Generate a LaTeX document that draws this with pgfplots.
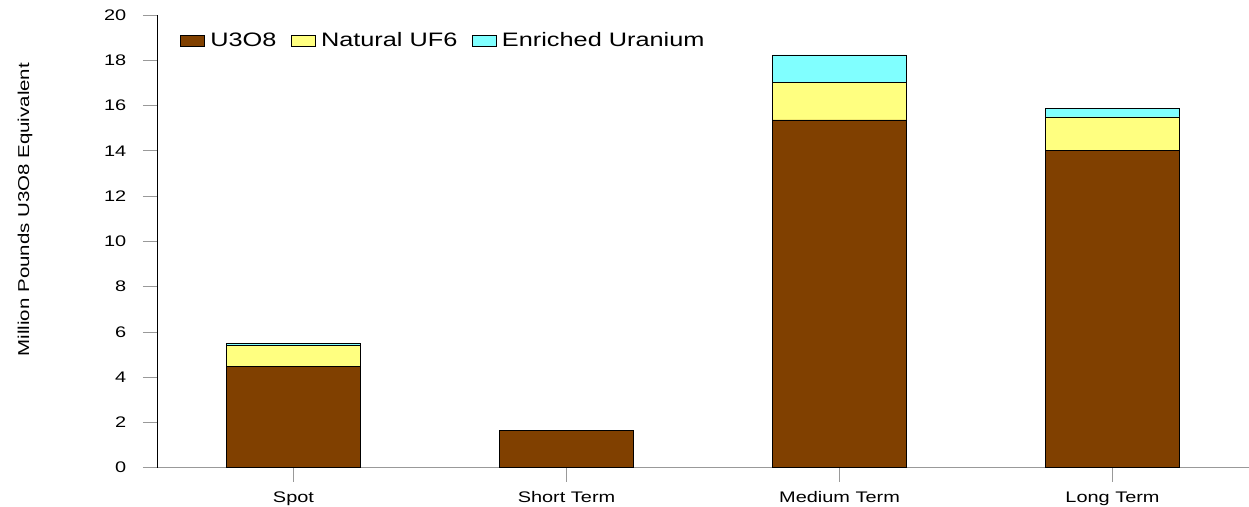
\documentclass[border=0pt]{standalone}
\usepackage{pgfplots}
\pgfplotsset{compat=1.18}
\usepackage{fontspec}
\setmainfont{Liberation Sans}[FakeStretch=1.3]
\definecolor{cU}{RGB}{128,64,0}
\definecolor{cN}{RGB}{255,255,128}
\definecolor{cE}{RGB}{128,255,255}
\begin{document}
\begin{tikzpicture}
\begin{axis}[
  scale only axis,
  width=819pt, height=339.4pt,
  ybar stacked, bar width=100.5pt,
  xmin=-0.5, xmax=3.5, ymin=0, ymax=20,
  ytick={0,2,...,20},
  xtick=data,
  xticklabels={Spot,Short Term,Medium Term,Long Term},
  axis x line*=bottom, axis y line*=left,
  x axis line style={gray!80, -},
  y axis line style={black, -},
  tick align=outside,
  major tick length=10.5pt,
  xtick style={gray!80, thin},
  ytick style={gray!80, thin},
  tick label style={font=\fontsize{11.5}{13}\selectfont},
  yticklabel style={xshift=-9pt},
  xticklabel style={yshift=-4pt},
  /pgf/number format/assume math mode=true,
  ylabel={Million Pounds U3O8 Equivalent},
  ylabel style={font=\fontsize{11.8}{13}\selectfont, at={(axis description cs:0,0.57)}, yshift=99pt, anchor=center},
  legend style={at={(axis description cs:0.021,0.943)}, anchor=west, draw=none, fill=none,
     font=\fontsize{14.6}{16}\selectfont, legend columns=3, inner sep=0pt,
     /tikz/every even column/.append style={column sep=8.75pt},
     /tikz/every odd column/.append style={column sep=2.25pt},
     nodes={inner sep=2pt}},
  legend image code/.code={\draw[#1, draw=black, thin] (0pt,-4.3pt) rectangle (18pt,4.3pt);},
  enlarge x limits=false,
  clip=false,
]
\addplot[fill=cU, draw=black, thin] coordinates {(0,4.46) (1,1.63) (2,15.36) (3,14.02)};
\addplot[fill=cN, draw=black, thin] coordinates {(0,0.93) (1,0) (2,1.65) (3,1.48)};
\addplot[fill=cE, draw=black, thin] coordinates {(0,0.09) (1,0) (2,1.23) (3,0.36)};
\legend{U3O8, Natural UF6, Enriched Uranium}
\coordinate (sw) at (rel axis cs:0,0);
\coordinate (ne) at (rel axis cs:1,1);
\end{axis}
\pgfresetboundingbox
\path[use as bounding box] ([shift={(-117.75pt,-28.9pt)}]sw) rectangle ([shift={(0pt,11.25pt)}]ne);
\end{tikzpicture}
\end{document}
